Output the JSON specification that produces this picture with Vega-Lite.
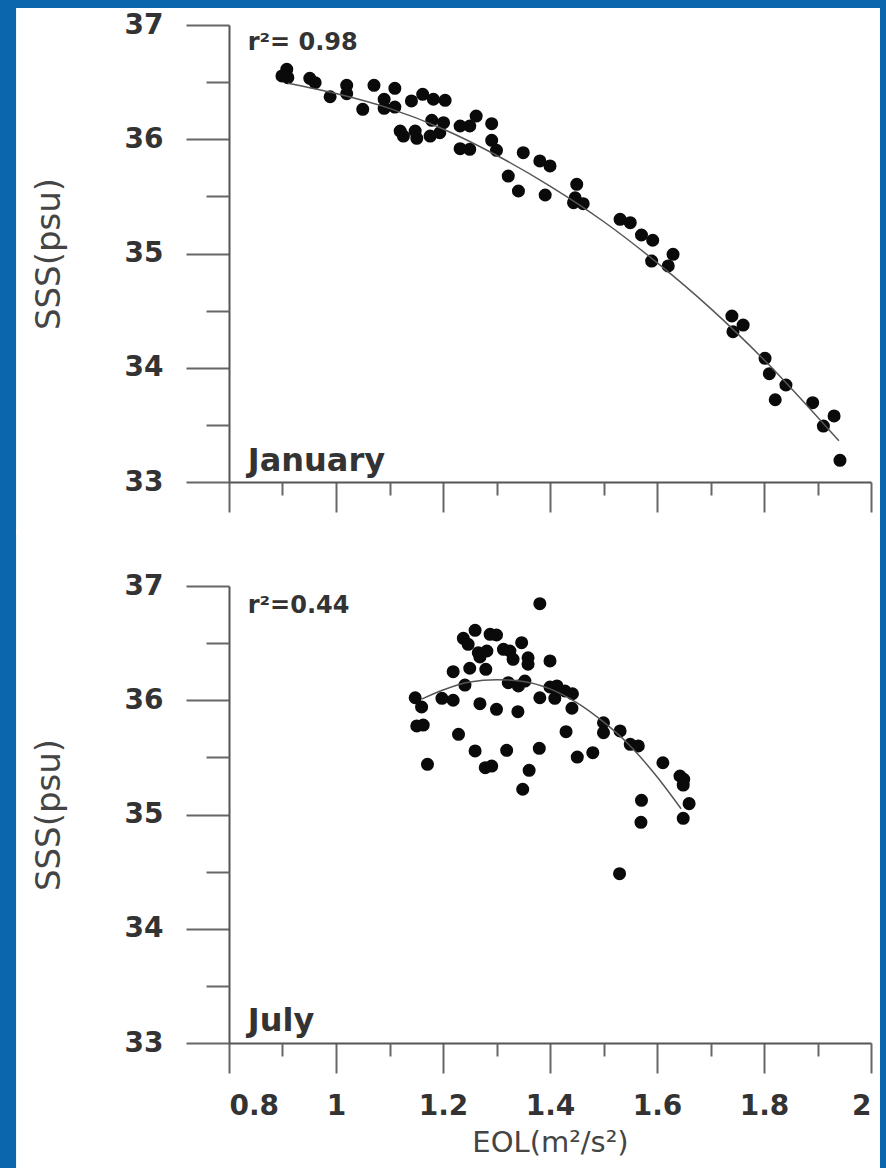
{
  "$schema": "https://vega.github.io/schema/vega-lite/v6.json",
  "background": "#0b66ad",
  "padding": {"left": 16, "top": 7, "right": 6, "bottom": 0},
  "spacing": 104,
  "bounds": "flush",
  "config": {
    "view": {"stroke": null},
    "axis": {
      "domainColor": "#555555", "domainWidth": 2, "tickColor": "#666666", "tickWidth": 2,
      "labelColor": "#333333", "titleColor": "#444444", "grid": false, "zindex": 1
    }
  },
  "datasets": {
    "jan": [
      {"eol": 0.908, "sss": 36.612}, {"eol": 0.899, "sss": 36.554}, {"eol": 0.910, "sss": 36.539},
      {"eol": 0.951, "sss": 36.533}, {"eol": 0.961, "sss": 36.495}, {"eol": 0.989, "sss": 36.372},
      {"eol": 1.020, "sss": 36.472}, {"eol": 1.020, "sss": 36.399}, {"eol": 1.071, "sss": 36.472},
      {"eol": 1.110, "sss": 36.446}, {"eol": 1.050, "sss": 36.262}, {"eol": 1.090, "sss": 36.350},
      {"eol": 1.090, "sss": 36.271}, {"eol": 1.110, "sss": 36.282}, {"eol": 1.141, "sss": 36.335},
      {"eol": 1.162, "sss": 36.393}, {"eol": 1.182, "sss": 36.350}, {"eol": 1.204, "sss": 36.341},
      {"eol": 1.179, "sss": 36.166}, {"eol": 1.201, "sss": 36.145}, {"eol": 1.120, "sss": 36.072},
      {"eol": 1.126, "sss": 36.028}, {"eol": 1.151, "sss": 36.008}, {"eol": 1.148, "sss": 36.072},
      {"eol": 1.176, "sss": 36.028}, {"eol": 1.194, "sss": 36.057}, {"eol": 1.232, "sss": 36.116},
      {"eol": 1.250, "sss": 36.116}, {"eol": 1.262, "sss": 36.203}, {"eol": 1.291, "sss": 36.136},
      {"eol": 1.232, "sss": 35.917}, {"eol": 1.250, "sss": 35.912}, {"eol": 1.291, "sss": 35.991},
      {"eol": 1.300, "sss": 35.903}, {"eol": 1.350, "sss": 35.882}, {"eol": 1.381, "sss": 35.810},
      {"eol": 1.400, "sss": 35.766}, {"eol": 1.322, "sss": 35.678}, {"eol": 1.341, "sss": 35.547},
      {"eol": 1.391, "sss": 35.512}, {"eol": 1.450, "sss": 35.606}, {"eol": 1.447, "sss": 35.488},
      {"eol": 1.444, "sss": 35.445}, {"eol": 1.462, "sss": 35.436}, {"eol": 1.531, "sss": 35.299},
      {"eol": 1.550, "sss": 35.270}, {"eol": 1.571, "sss": 35.162}, {"eol": 1.592, "sss": 35.116},
      {"eol": 1.630, "sss": 34.993}, {"eol": 1.590, "sss": 34.934}, {"eol": 1.621, "sss": 34.891},
      {"eol": 1.740, "sss": 34.453}, {"eol": 1.761, "sss": 34.374}, {"eol": 1.742, "sss": 34.316},
      {"eol": 1.802, "sss": 34.083}, {"eol": 1.810, "sss": 33.948}, {"eol": 1.841, "sss": 33.849},
      {"eol": 1.821, "sss": 33.720}, {"eol": 1.891, "sss": 33.694}, {"eol": 1.931, "sss": 33.578},
      {"eol": 1.911, "sss": 33.490}, {"eol": 1.942, "sss": 33.190}
    ],
    "janfit": [
      {"eol": 0.91, "sss": 36.49}, {"eol": 1.0, "sss": 36.40}, {"eol": 1.1, "sss": 36.27},
      {"eol": 1.2, "sss": 36.09}, {"eol": 1.3, "sss": 35.86}, {"eol": 1.4, "sss": 35.59},
      {"eol": 1.5, "sss": 35.28}, {"eol": 1.6, "sss": 34.92}, {"eol": 1.7, "sss": 34.52},
      {"eol": 1.8, "sss": 34.07}, {"eol": 1.94, "sss": 33.36}
    ],
    "jul": [
      {"eol": 1.381, "sss": 36.845}, {"eol": 1.260, "sss": 36.612}, {"eol": 1.288, "sss": 36.577},
      {"eol": 1.300, "sss": 36.571}, {"eol": 1.238, "sss": 36.542}, {"eol": 1.247, "sss": 36.490},
      {"eol": 1.266, "sss": 36.416}, {"eol": 1.282, "sss": 36.431}, {"eol": 1.269, "sss": 36.379},
      {"eol": 1.313, "sss": 36.446}, {"eol": 1.325, "sss": 36.431}, {"eol": 1.347, "sss": 36.504},
      {"eol": 1.331, "sss": 36.358}, {"eol": 1.359, "sss": 36.372}, {"eol": 1.359, "sss": 36.315},
      {"eol": 1.400, "sss": 36.344}, {"eol": 1.219, "sss": 36.250}, {"eol": 1.250, "sss": 36.280},
      {"eol": 1.280, "sss": 36.271}, {"eol": 1.241, "sss": 36.133}, {"eol": 1.322, "sss": 36.154},
      {"eol": 1.341, "sss": 36.125}, {"eol": 1.353, "sss": 36.168}, {"eol": 1.400, "sss": 36.116},
      {"eol": 1.413, "sss": 36.125}, {"eol": 1.428, "sss": 36.081}, {"eol": 1.442, "sss": 36.057},
      {"eol": 1.148, "sss": 36.022}, {"eol": 1.160, "sss": 35.941}, {"eol": 1.198, "sss": 36.017},
      {"eol": 1.219, "sss": 36.000}, {"eol": 1.269, "sss": 35.970}, {"eol": 1.300, "sss": 35.921},
      {"eol": 1.340, "sss": 35.900}, {"eol": 1.381, "sss": 36.022}, {"eol": 1.409, "sss": 36.017},
      {"eol": 1.441, "sss": 35.930}, {"eol": 1.151, "sss": 35.775}, {"eol": 1.163, "sss": 35.783},
      {"eol": 1.229, "sss": 35.702}, {"eol": 1.260, "sss": 35.556}, {"eol": 1.319, "sss": 35.562},
      {"eol": 1.380, "sss": 35.579}, {"eol": 1.430, "sss": 35.725}, {"eol": 1.451, "sss": 35.503},
      {"eol": 1.480, "sss": 35.541}, {"eol": 1.500, "sss": 35.803}, {"eol": 1.500, "sss": 35.716},
      {"eol": 1.531, "sss": 35.731}, {"eol": 1.550, "sss": 35.614}, {"eol": 1.565, "sss": 35.600},
      {"eol": 1.171, "sss": 35.439}, {"eol": 1.279, "sss": 35.410}, {"eol": 1.291, "sss": 35.424},
      {"eol": 1.361, "sss": 35.387}, {"eol": 1.349, "sss": 35.221}, {"eol": 1.611, "sss": 35.453},
      {"eol": 1.643, "sss": 35.337}, {"eol": 1.650, "sss": 35.308}, {"eol": 1.649, "sss": 35.258},
      {"eol": 1.571, "sss": 35.124}, {"eol": 1.660, "sss": 35.095}, {"eol": 1.649, "sss": 34.967},
      {"eol": 1.570, "sss": 34.932}, {"eol": 1.530, "sss": 34.482}
    ],
    "julfit": [
      {"eol": 1.16, "sss": 36.01}, {"eol": 1.2, "sss": 36.09}, {"eol": 1.25, "sss": 36.16},
      {"eol": 1.3, "sss": 36.18}, {"eol": 1.35, "sss": 36.165}, {"eol": 1.4, "sss": 36.10},
      {"eol": 1.45, "sss": 35.98}, {"eol": 1.5, "sss": 35.81}, {"eol": 1.55, "sss": 35.60},
      {"eol": 1.6, "sss": 35.33}, {"eol": 1.645, "sss": 35.05}
    ]
  },
  "vconcat": [
    {
      "width": 642, "height": 457,
      "resolve": {"axis": {"x": "independent", "y": "independent"}},
      "layer": [
        {
          "data": {"values": [{}]},
          "mark": {"type": "rect", "color": "#ffffff", "clip": false},
          "encoding": {
            "x": {"datum": 0.402, "type": "quantitative", "axis": null, "scale": {"domain": [0.8, 2], "nice": false, "zero": false}},
            "x2": {"datum": 2.0168},
            "y": {"datum": 37.149, "type": "quantitative", "axis": null, "scale": {"domain": [33, 37], "nice": false, "zero": false}},
            "y2": {"datum": 32.545}
          }
        },
        {
          "data": {"name": "jan"},
          "mark": {"type": "point", "filled": true, "size": 170, "color": "#0a0a0a", "opacity": 1},
          "encoding": {
            "x": {"field": "eol", "type": "quantitative", "scale": {"domain": [0.8, 2], "nice": false, "zero": false},
              "axis": {"orient": "bottom", "zindex": 2, "values": [0.8, 1, 1.2, 1.4, 1.6, 1.8, 2], "tickSize": 30, "labels": false, "title": null, "domain": true}},
            "y": {"field": "sss", "type": "quantitative", "scale": {"domain": [33, 37], "nice": false, "zero": false},
              "axis": {"orient": "left", "zindex": 2, "values": [33, 34, 35, 36, 37], "tickSize": 43, "labelPadding": 23,
                "labelFont": "DejaVu Sans", "labelFontWeight": "bold", "labelFontSize": 28, "format": "d",
                "title": "SSS(psu)", "titleFont": "DejaVu Sans", "titleFontSize": 34, "titleFontWeight": "normal", "titlePadding": 58}}
          }
        },
        {
          "data": {"name": "janfit"},
          "mark": {"type": "line", "color": "#555555", "strokeWidth": 1.5, "interpolate": "monotone"},
          "encoding": {
            "x": {"field": "eol", "type": "quantitative", "scale": {"domain": [0.8, 2], "nice": false, "zero": false},
              "axis": {"orient": "bottom", "zindex": 2, "values": [0.9, 1.1, 1.3, 1.5, 1.7, 1.9], "tickSize": 13, "labels": false, "title": null, "domain": false}},
            "y": {"field": "sss", "type": "quantitative", "scale": {"domain": [33, 37], "nice": false, "zero": false},
              "axis": {"orient": "left", "zindex": 2, "values": [33.5, 34.5, 35.5, 36.5], "tickSize": 23, "labels": false, "title": null, "domain": false}}
          }
        },
        {
          "data": {"values": [{}]},
          "mark": {"type": "text", "text": "r²= 0.98", "font": "DejaVu Sans", "fontWeight": "bold", "fontSize": 24, "align": "left", "baseline": "middle", "color": "#333333"},
          "encoding": {
            "x": {"datum": 0.835, "type": "quantitative", "axis": null},
            "y": {"datum": 36.84, "type": "quantitative", "axis": null}
          }
        },
        {
          "data": {"values": [{}]},
          "mark": {"type": "text", "text": "January", "font": "DejaVu Sans", "fontWeight": "bold", "fontSize": 32, "align": "left", "baseline": "middle", "color": "#333333"},
          "encoding": {
            "x": {"datum": 0.835, "type": "quantitative", "axis": null},
            "y": {"datum": 33.184, "type": "quantitative", "axis": null}
          }
        }
      ]
    },
    {
      "width": 642, "height": 457,
      "resolve": {"axis": {"x": "independent", "y": "independent"}},
      "layer": [
        {
          "data": {"values": [{}]},
          "mark": {"type": "rect", "color": "#ffffff", "clip": false},
          "encoding": {
            "x": {"datum": 0.402, "type": "quantitative", "axis": null, "scale": {"domain": [0.8, 2], "nice": false, "zero": false}},
            "x2": {"datum": 2.0168},
            "y": {"datum": 37.5, "type": "quantitative", "axis": null, "scale": {"domain": [33, 37], "nice": false, "zero": false}},
            "y2": {"datum": 31.897}
          }
        },
        {
          "data": {"name": "jul"},
          "mark": {"type": "point", "filled": true, "size": 170, "color": "#0a0a0a", "opacity": 1},
          "encoding": {
            "x": {"field": "eol", "type": "quantitative", "scale": {"domain": [0.8, 2], "nice": false, "zero": false},
              "axis": {"orient": "bottom", "zindex": 2, "values": [0.8, 1, 1.2, 1.4, 1.6, 1.8, 2], "tickSize": 30, "labelPadding": 19, "format": "~g",
                "labelFont": "DejaVu Sans", "labelFontWeight": "bold", "labelFontSize": 28,
                "title": "EOL(m²/s²)", "titleFont": "DejaVu Sans", "titleFontSize": 29, "titleFontWeight": "normal", "titlePadding": 8}},
            "y": {"field": "sss", "type": "quantitative", "scale": {"domain": [33, 37], "nice": false, "zero": false},
              "axis": {"orient": "left", "zindex": 2, "values": [33, 34, 35, 36, 37], "tickSize": 43, "labelPadding": 23,
                "labelFont": "DejaVu Sans", "labelFontWeight": "bold", "labelFontSize": 28, "format": "d",
                "title": "SSS(psu)", "titleFont": "DejaVu Sans", "titleFontSize": 34, "titleFontWeight": "normal", "titlePadding": 58}}
          }
        },
        {
          "data": {"name": "julfit"},
          "mark": {"type": "line", "color": "#555555", "strokeWidth": 1.5, "interpolate": "monotone"},
          "encoding": {
            "x": {"field": "eol", "type": "quantitative", "scale": {"domain": [0.8, 2], "nice": false, "zero": false},
              "axis": {"orient": "bottom", "zindex": 2, "values": [0.9, 1.1, 1.3, 1.5, 1.7, 1.9], "tickSize": 13, "labels": false, "title": null, "domain": false}},
            "y": {"field": "sss", "type": "quantitative", "scale": {"domain": [33, 37], "nice": false, "zero": false},
              "axis": {"orient": "left", "zindex": 2, "values": [33.5, 34.5, 35.5, 36.5], "tickSize": 23, "labels": false, "title": null, "domain": false}}
          }
        },
        {
          "data": {"values": [{}]},
          "mark": {"type": "text", "text": "r²=0.44", "font": "DejaVu Sans", "fontWeight": "bold", "fontSize": 24, "align": "left", "baseline": "middle", "color": "#333333"},
          "encoding": {
            "x": {"datum": 0.835, "type": "quantitative", "axis": null},
            "y": {"datum": 36.825, "type": "quantitative", "axis": null}
          }
        },
        {
          "data": {"values": [{}]},
          "mark": {"type": "text", "text": "July", "font": "DejaVu Sans", "fontWeight": "bold", "fontSize": 32, "align": "left", "baseline": "middle", "color": "#333333"},
          "encoding": {
            "x": {"datum": 0.835, "type": "quantitative", "axis": null},
            "y": {"datum": 33.19, "type": "quantitative", "axis": null}
          }
        }
      ]
    }
  ]
}
